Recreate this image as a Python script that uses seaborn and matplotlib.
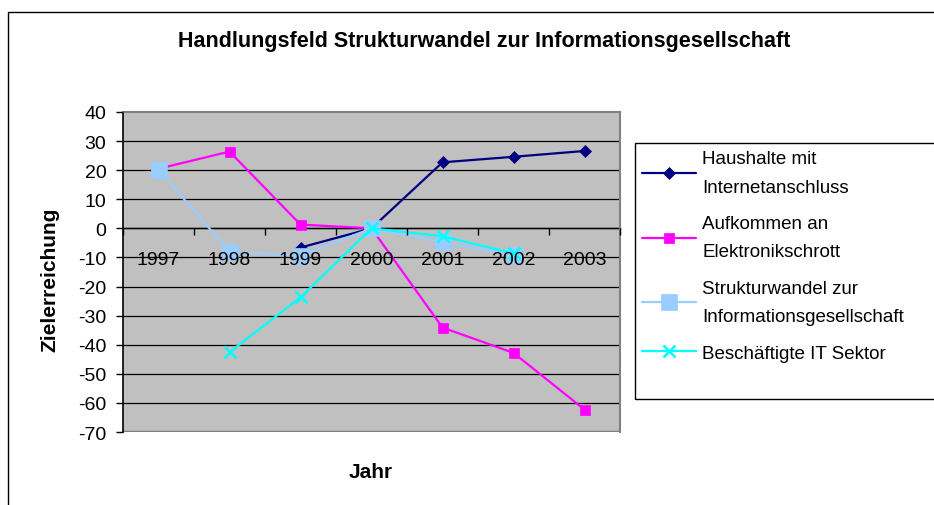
import numpy as np
import pandas as pd
import seaborn as sns
import matplotlib.pyplot as plt
from matplotlib.patches import Rectangle

# Data
jahre = ["1997", "1998", "1999", "2000", "2001", "2002", "2003"]
haushalte = [np.nan, np.nan, -6.6, 0.0, 22.7, 24.6, 26.6]
elektroschrott = [20.5, 26.4, 1.3, 0.0, -34.1, -42.8, -62.3]
strukturwandel = [20.2, -8.0, -9.4, 0.0, -4.8, -9.1, np.nan]
it_sektor = [np.nan, -42.6, -23.7, 0.0, -2.7, -8.6, np.nan]

labels = [
    "Haushalte mit\nInternetanschluss",
    "Aufkommen an\nElektronikschrott",
    "Strukturwandel zur\nInformationsgesellschaft",
    "Beschäftigte IT Sektor",
]
series = [haushalte, elektroschrott, strukturwandel, it_sektor]
colors = ["#000080", "#FF00FF", "#99CCFF", "#00FFFF"]
markers = ["D", "s", "s", "x"]
msizes = [6.5, 6.5, 11.5, 8]

sns.set_theme(style="white")
plt.rcParams["font.family"] = ["Liberation Sans", "DejaVu Sans"]
plt.rcParams["axes.unicode_minus"] = False
plt.rcParams["text.color"] = "black"
plt.rcParams["xtick.color"] = "black"
plt.rcParams["ytick.color"] = "black"

fig = plt.figure(figsize=(9.34, 5.06), dpi=100)
W, H = 934, 506
ax = fig.add_axes([123 / W, 1 - 433 / H, 497 / W, 320 / H])
ax.set_facecolor("#C0C0C0")
ax.set_axisbelow(False)

x = np.arange(len(jahre))
for vals, lab, col, mk, ms in zip(series, labels, colors, markers, msizes):
    df = pd.DataFrame({"x": x, "y": vals}).dropna()
    sns.lineplot(
        data=df, x="x", y="y", ax=ax, color=col, marker=mk, markersize=ms,
        markeredgecolor=col, markeredgewidth=1.8 if mk == "x" else 0.5,
        linewidth=1.6, label=lab, zorder=2.2,
    )

ax.set_xlim(-0.5, 6.5)
ax.set_ylim(-70, 40)
ax.set_yticks(range(-70, 41, 10))
for yv in range(-60, 40, 10):
    ax.axhline(yv, color="black", linewidth=0.9, zorder=1)

# x axis sitting on the zero line, ticks between categories
ax.set_xticks(np.arange(-0.5, 7, 1))
ax.set_xticklabels([])
ax.set_xticks(x, minor=True)
ax.set_xticklabels(jahre, minor=True)
ax.tick_params(axis="x", which="major", direction="out", length=5,
               width=1, color="black", bottom=True)
ax.tick_params(axis="x", which="minor", length=0, pad=16, bottom=True,
               labelsize=14, labelcolor="black")
ax.tick_params(axis="y", direction="out", length=5, width=1,
               color="black", labelsize=14, pad=7, left=True,
               labelcolor="black")

ax.spines["bottom"].set_position(("data", 0))
ax.spines["bottom"].set_color("black")
ax.spines["bottom"].set_linewidth(1)
ax.spines["bottom"].set_zorder(2)
ax.spines["left"].set_color("black")
ax.spines["left"].set_linewidth(1.2)
for s in ["top", "right"]:
    ax.spines[s].set_color("#808080")
    ax.spines[s].set_linewidth(1.5)
ax.axhline(-70, color="#808080", linewidth=2.5, zorder=2)

ax.set_xlabel("")
ax.set_ylabel("")

fig.text(484 / W, 1 - 42 / H,
         "Handlungsfeld Strukturwandel zur Informationsgesellschaft",
         ha="center", va="center", fontsize=15.5, fontweight="bold",
         color="black")
fig.text(50 / W, 1 - 280 / H, "Zielerreichung", rotation=90,
         ha="center", va="center", fontsize=15, fontweight="bold",
         color="black")
fig.text(371 / W, 1 - 472 / H, "Jahr", ha="center", va="center",
         fontsize=15, fontweight="bold", color="black")

leg = ax.legend(
    loc="upper left", bbox_to_anchor=(634 / W, 1 - 144 / H),
    bbox_transform=fig.transFigure, frameon=False, fontsize=13.5,
    handlelength=2.9, handletextpad=0.35, labelspacing=1.05,
    borderaxespad=0,
)
for t in leg.get_texts():
    t.set_linespacing(1.85)
    t.set_color("black")

# legend frame and outer chart border run past the picture edges
fig.add_artist(Rectangle((635 / W, 1 - 400 / H), 0.4, 256 / H,
                         transform=fig.transFigure, fill=False,
                         edgecolor="black", linewidth=1))
fig.add_artist(Rectangle((8 / W, -0.1), 1.2, 1.1 - 13 / H,
                         transform=fig.transFigure, fill=False,
                         edgecolor="black", linewidth=1))

fig.savefig("out.png", dpi=100)
